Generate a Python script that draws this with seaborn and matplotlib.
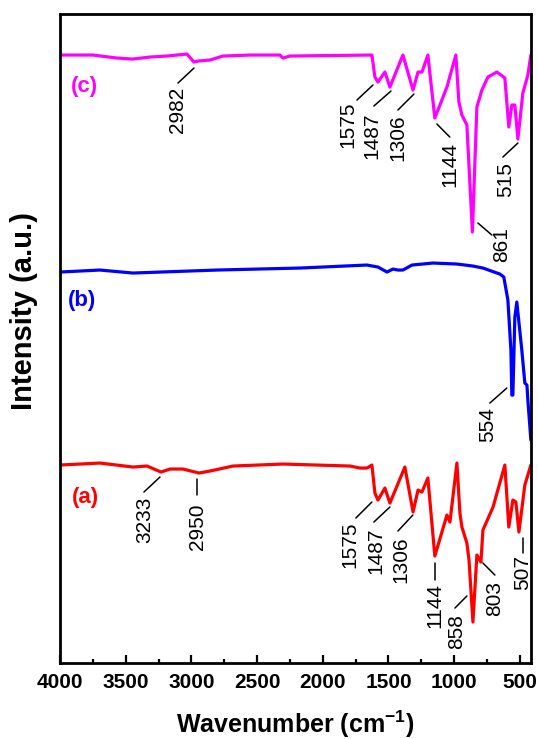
import numpy as np
import pandas as pd
import matplotlib
matplotlib.use("Agg")
import matplotlib.pyplot as plt
import seaborn as sns
from matplotlib.ticker import MultipleLocator

# FTIR spectra: wavenumber (cm-1) and stacked intensity (a.u.)
wn_c = [4000, 3749, 3566, 3445, 3315, 3186, 3034, 2980, 2950, 2859, 2760, 2554, 2326, 2303,
        2250, 1641, 1626, 1603, 1580, 1527, 1489, 1390, 1313, 1275, 1245, 1200, 1147, 1055,
        987, 964, 941, 903, 861, 827, 789, 743, 675, 614, 584, 561, 538, 515, 477, 439, 416]
int_c = [60.8, 60.8, 60.5, 60.4, 60.6, 60.7, 60.9, 60.1, 60.2, 60.3, 60.7, 60.8, 60.8, 60.5,
         60.7, 60.8, 60.8, 58.6, 58.1, 59.1, 57.6, 60.8, 57.3, 59.1, 59.1, 60.8, 54.5, 57.6,
         60.8, 56.1, 54.8, 53.8, 43.1, 55.6, 57.3, 58.6, 59.1, 58.5, 53.6, 55.8, 55.8, 52.4,
         57.0, 58.8, 60.8]

wn_b = [4000, 3696, 3445, 2805, 2173, 1664, 1580, 1511, 1466, 1428, 1390, 1321, 1161, 979,
        857, 781, 674, 652, 622, 591, 568, 561, 553, 538, 523, 485, 462, 446, 439, 416]
int_b = [39.1, 39.3, 39.0, 39.3, 39.5, 39.8, 39.6, 39.1, 39.4, 39.3, 39.3, 39.8, 40.0, 39.9,
         39.7, 39.5, 39.0, 38.9, 38.6, 36.3, 31.3, 26.8, 26.8, 34.6, 36.1, 31.3, 28.0, 27.8,
         26.3, 22.3]

wn_a = [4000, 3696, 3445, 3338, 3231, 3163, 3064, 2942, 2859, 2683, 2303, 1793, 1717, 1663,
        1626, 1603, 1580, 1527, 1489, 1375, 1313, 1275, 1245, 1200, 1147, 1055, 1032, 979,
        956, 941, 903, 887, 857, 827, 796, 781, 704, 614, 584, 553, 530, 507, 462, 416]
int_a = [19.8, 20.0, 19.6, 19.7, 19.1, 19.4, 19.4, 19.0, 19.2, 19.7, 19.9, 19.7, 19.5, 19.5,
         19.8, 17.0, 16.3, 17.5, 16.0, 19.6, 15.1, 17.3, 17.1, 18.5, 10.7, 14.8, 14.1, 20.0,
         15.0, 13.6, 12.0, 10.3, 4.1, 10.8, 10.1, 13.3, 15.6, 19.8, 13.6, 16.3, 16.1, 13.1,
         17.8, 19.8]

# peak labels: text, leader start, leader end, text anchor (centre x, top y)
peaks_c = [("2982", (2980, 59.5), (3102, 58.0), (3102, 57.6)),
           ("1575", (1618, 57.8), (1740, 56.3), (1810, 56.2)),
           ("1487", (1481, 57.2), (1611, 55.7), (1625, 55.1)),
           ("1306", (1306, 56.9), (1428, 55.3), (1425, 54.9)),
           ("1144", (1131, 53.9), (1033, 52.6), (1033, 52.1)),
           ("861", (819, 44.0), (713, 42.8), (640, 43.6)),
           ("515", (515, 52.0), (629, 50.6), (610, 50.1))]
peaks_b = [("554", (599, 27.5), (728, 26.0), (745, 25.6))]
peaks_a = [("3233", (3239, 18.6), (3361, 17.1), (3355, 16.6)),
           ("2950", (2958, 18.4), (2958, 16.8), (2955, 16.0)),
           ("1575", (1626, 16.1), (1748, 14.5), (1790, 14.2)),
           ("1487", (1489, 15.6), (1611, 14.1), (1595, 13.6)),
           ("1306", (1314, 14.8), (1428, 13.2), (1405, 12.7)),
           ("1144", (1147, 10.0), (1147, 8.3), (1147, 8.0)),
           ("858", (903, 6.7), (994, 5.5), (979, 4.9)),
           ("803", (781, 10.0), (690, 8.8), (690, 8.2)),
           ("507", (477, 12.5), (477, 11.0), (477, 10.8))]

spectra = [("(a)", wn_a, int_a, "#FF0000", peaks_a, (3909, 16.6)),
           ("(b)", wn_b, int_b, "#0000FF", peaks_b, (3939, 36.3)),
           ("(c)", wn_c, int_c, "#FF00FF", peaks_c, (3916, 57.7))]

sns.set_theme(style="ticks")
plt.rcParams["font.family"] = ["Liberation Sans", "DejaVu Sans"]
plt.rcParams["mathtext.fontset"] = "custom"
plt.rcParams["mathtext.rm"] = "Liberation Sans"
plt.rcParams["mathtext.bf"] = "Liberation Sans:bold"
plt.rcParams["text.color"] = "black"
plt.rcParams["axes.labelcolor"] = "black"
plt.rcParams["xtick.color"] = "black"

fig = plt.figure(figsize=(5.38, 7.39), dpi=100)
ax = fig.add_axes([0.1115, 0.1028, 0.8755, 0.8782])

for name, wn, inten, col, peaks, lab_pos in spectra:
    df = pd.DataFrame({"wn": wn, "intensity": inten})
    sns.lineplot(data=df, x="wn", y="intensity", color=col, linewidth=2.3,
                 estimator=None, sort=False, ax=ax)
    ax.text(lab_pos[0], lab_pos[1], name, color=col, fontsize=16, fontweight="bold",
            ha="left", va="center")
    for txt, start, end, tpos in peaks:
        ax.plot([start[0], end[0]], [start[1], end[1]], color="black", linewidth=1.1)
        ax.text(tpos[0], tpos[1], txt, rotation=90, ha="center", va="top",
                fontsize=15, color="black")

ax.set_xlim(4000, 415)
ax.set_ylim(0, 64.9)
ax.xaxis.set_major_locator(MultipleLocator(500))
ax.xaxis.set_minor_locator(MultipleLocator(250))
ax.set_yticks([])
ax.tick_params(axis="x", which="major", direction="in", length=6, width=1.6, pad=7,
               labelsize=15, labelcolor="black")
ax.tick_params(axis="x", which="minor", direction="in", length=3, width=1.6)
for lab in ax.get_xticklabels():
    lab.set_fontweight("bold")
for sp in ax.spines.values():
    sp.set_linewidth(2.0)
    sp.set_color("black")

ax.set_xlabel("Wavenumber (cm$^{\\mathbf{-1}}$)", fontsize=18, fontweight="bold",
              labelpad=12, color="black")
ax.set_ylabel("Intensity (a.u.)", fontsize=21, fontweight="bold", color="black")
ax.yaxis.set_label_coords(-0.047, 0.542)

fig.savefig("out.png", dpi=100)
